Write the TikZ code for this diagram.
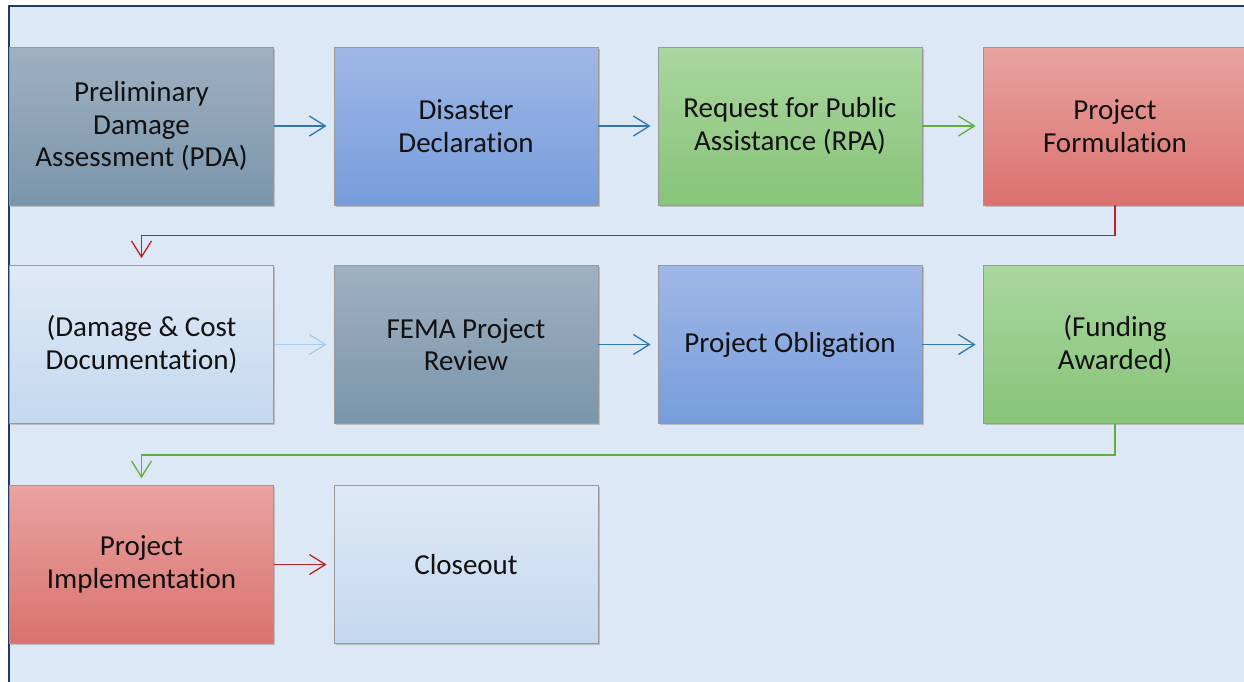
\documentclass[tikz,border=0pt]{standalone}
\usepackage{fontspec}
\setmainfont[Ligatures=NoCommon]{Carlito}
\usetikzlibrary{arrows.meta,shadows}
\definecolor{pagebg}{HTML}{DCE8F5}
\definecolor{frameblue}{HTML}{1F3C68}
\definecolor{txt}{HTML}{111111}
\definecolor{arrblue}{HTML}{2F78B2}
\definecolor{arrgreen}{HTML}{5DAF3E}
\definecolor{arrred}{HTML}{C0202A}
\definecolor{arrlight}{HTML}{A9CBEC}
\definecolor{slatetop}{HTML}{9FB1C1}
\definecolor{slatebot}{HTML}{7A95AB}
\definecolor{azuretop}{HTML}{A0B7E6}
\definecolor{azurebot}{HTML}{769DDB}
\definecolor{leaftop}{HTML}{AAD69F}
\definecolor{leafbot}{HTML}{87C478}
\definecolor{coraltop}{HTML}{E9A3A1}
\definecolor{coralbot}{HTML}{D9726E}
\definecolor{paletop}{HTML}{DFE9F6}
\definecolor{palebot}{HTML}{C4D8F0}
\tikzset{
  stage/.style={rectangle, minimum width=264pt, minimum height=158pt,
    draw=black!40, line width=0.8pt, text=txt, align=center,
    font=\fontsize{29pt}{32.5pt}\selectfont,
    drop shadow={shadow xshift=1.5pt, shadow yshift=-1.5pt, fill=black!30, opacity=0.8}},
  slate/.style={stage, top color=slatetop, bottom color=slatebot},
  azure/.style={stage, top color=azuretop, bottom color=azurebot},
  leaf/.style={stage, top color=leaftop, bottom color=leafbot},
  coral/.style={stage, top color=coraltop, bottom color=coralbot},
  pale/.style={stage, top color=paletop, bottom color=palebot},
  flow/.style={line width=1.3pt, shorten >=7pt,
    -{Straight Barb[length=16pt, width=20pt, line width=1.3pt]}},
}
\begin{document}
\begin{tikzpicture}[x=1pt, y=-1pt]
  \useasboundingbox (0,0) rectangle (1244,681);
  \clip (0,0) rectangle (1244,681);
  \fill[white] (0,0) rectangle (1244,681);
  \fill[pagebg] (9,6) rectangle (1250,690);
  \draw[frameblue, line width=2pt] (9,690) -- (9,6) -- (1250,6);

  % row 1
  \node[slate] (pda)  at (141.5,126) {Preliminary\\Damage\\Assessment (PDA)};
  \node[azure] (dd)   at (466,126)   {Disaster\\Declaration};
  \node[leaf]  (rpa)  at (790,126)   {Request for Public\\Assistance (RPA)};
  \node[coral] (pf)   at (1115,126)  {Project\\Formulation};
  % row 2
  \node[pale]  (dcd)  at (141.5,344.5) {(Damage \& Cost\\Documentation)};
  \node[slate] (fpr)  at (466,344.5)   {FEMA Project\\Review};
  \node[azure] (po)   at (790,344.5)   {Project Obligation};
  \node[leaf]  (fa)   at (1115,344.5)  {(Funding\\Awarded)};
  % row 3
  \node[coral] (pi)   at (141.5,564.5) {Project\\Implementation};
  \node[pale]  (co)   at (466,564.5)   {Closeout};

  % connectors
  \draw[flow, arrblue]  (pda.east) -- (dd.west);
  \draw[flow, arrblue]  (dd.east)  -- (rpa.west);
  \draw[flow, arrgreen] (rpa.east) -- (pf.west);
  \draw[flow, arrred]   (pf.south) -- ++(0,30) -| (dcd.north);
  \draw[flow, arrlight] (dcd.east) -- (fpr.west);
  \draw[flow, arrblue]  (fpr.east) -- (po.west);
  \draw[flow, arrblue]  (po.east)  -- (fa.west);
  \draw[flow, arrgreen] (fa.south) -- ++(0,31) -| (pi.north);
  \draw[flow, arrred]   (pi.east)  -- (co.west);
\end{tikzpicture}
\end{document}
